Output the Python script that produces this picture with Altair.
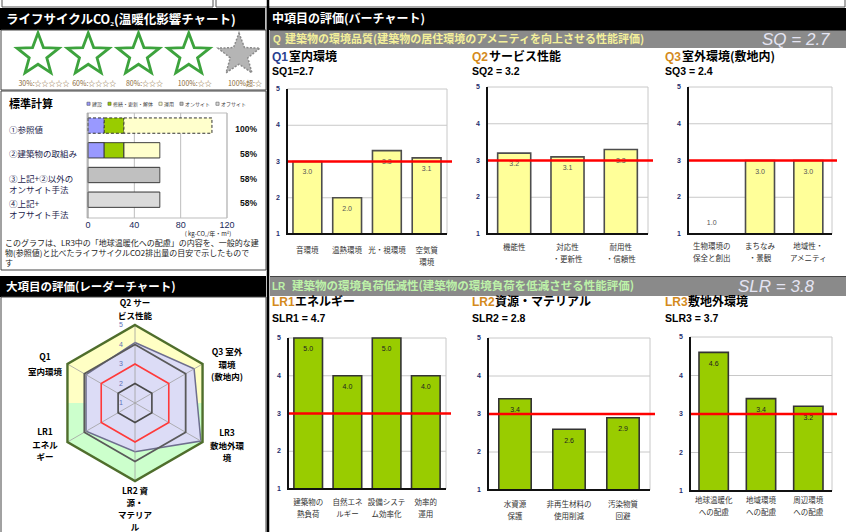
import math
import altair as alt
import pandas as pd

JP = "Noto Sans CJK JP"
LAT = "Liberation Sans"

# ---------------------------------------------------------------- values
STAR_SLOTS = [1, 2, 3, 4, 5]
STAR_EARNED = 4
STAR_LEGEND = ["30%:☆☆☆☆☆", "60%:☆☆☆☆", "80%:☆☆☆", "100%:☆☆", "100%超:☆"]

CO2_ROWS = ["①参照値", "②建築物の取組み", "③上記+②以外の\nオンサイト手法", "④上記+\nオフサイト手法"]
CO2_SEGMENTS = ["建設", "修繕・更新・解体", "運用", "オンサイト", "オフサイト"]
CO2_CONSTRUCTION = [14, 14, 0, 0]
CO2_RENEWAL = [17, 17, 0, 0]
CO2_OPERATION = [76, 31, 0, 0]
CO2_ONSITE = [0, 0, 62, 0]
CO2_OFFSITE = [0, 0, 0, 62]
CO2_TICKS = [0, 40, 80, 120]

RADAR_AXES = ["Q2 サー\nビス性能", "Q3 室外\n環境\n(敷地内)", "LR3\n敷地外環\n境",
              "LR2 資\n源・\nマテリア\nル", "LR1\nエネル\nギー", "Q1\n室内環境"]
RADAR_VALUES = [4.1, 4.5, 4.9, 3.5, 3.9, 3.9]
RADAR_LEVELS = [1, 2, 3, 4, 5]

SCORE_TICKS = [1, 2, 3, 4, 5]
BENCHMARK_LEVEL = 3

SQ, SLR = 2.7, 3.8
SQ1, SQ2, SQ3 = 2.7, 3.2, 2.4
SLR1, SLR2, SLR3 = 4.7, 2.8, 3.7

Q1_ITEMS = ["音環境", "温熱環境", "光・視環境", "空気質\n環境"]
Q1_SCORES = [3.0, 2.0, 3.3, 3.1]
Q2_ITEMS = ["機能性", "対応性\n・更新性", "耐用性\n・信頼性"]
Q2_SCORES = [3.2, 3.1, 3.3]
Q3_ITEMS = ["生物環境の\n保全と創出", "まちなみ\n・景観", "地域性・\nアメニティ"]
Q3_SCORES = [1.0, 3.0, 3.0]
LR1_ITEMS = ["建築物の\n熱負荷", "自然エネ\nルギー", "設備システ\nム効率化", "効率的\n運用"]
LR1_SCORES = [5.0, 4.0, 5.0, 4.0]
LR2_ITEMS = ["水資源\n保護", "非再生材料の\n使用削減", "汚染物質\n回避"]
LR2_SCORES = [3.4, 2.6, 2.9]
LR3_ITEMS = ["地球温暖化\nへの配慮", "地域環境\nへの配慮", "周辺環境\nへの配慮"]
LR3_SCORES = [4.6, 3.4, 3.2]

_one = pd.DataFrame({"k": [0]})


# ---------------------------------------------------------------- helpers
def txt(s, x, yc, size=9, color="#000000", weight="normal", align="left",
        font=JP, style="normal", lh=None):
    """Text whose first line is vertically centred on yc."""
    props = dict(text=s, fontSize=size, color=color, fontWeight=weight, align=align,
                 font=font, fontStyle=style, baseline="alphabetic")
    if "\n" in s:
        props["lineBreak"] = "\n"
        props["lineHeight"] = lh or size * 1.3
    return alt.Chart(_one).mark_text(**props).encode(
        x=alt.value(x), y=alt.value(yc + 0.36 * size))


def rect(x, y, x2, y2, fill="white", stroke=None, sw=1.0, opacity=1.0):
    kw = dict(fill=fill, fillOpacity=opacity)
    if stroke:
        kw.update(stroke=stroke, strokeWidth=sw)
    else:
        kw.update(strokeWidth=0)
    return alt.Chart(_one).mark_rect(**kw).encode(
        x=alt.value(x), y=alt.value(y), x2=alt.value(x2), y2=alt.value(y2))


def hline(x, x2, y, color, w=1.0):
    return alt.Chart(_one).mark_rule(color=color, strokeWidth=w).encode(
        x=alt.value(x), x2=alt.value(x2), y=alt.value(y))


def vline(x, y, y2, color, w=1.0):
    return alt.Chart(_one).mark_rule(color=color, strokeWidth=w).encode(
        x=alt.value(x), y=alt.value(y), y2=alt.value(y2))


def star_path(inner=0.42):
    pts = []
    for k in range(10):
        a = math.radians(-90 + 36 * k)
        r = 1.0 if k % 2 == 0 else inner
        pts.append(f"{r * math.cos(a):.4f},{r * math.sin(a):.4f}")
    return "M" + " L".join(pts) + " Z"


def bar_panel(items, scores, x0, x1, ytop, ybot, pin, pout, fill, stroke,
              val_color, lab_y):
    df = pd.DataFrame({"item": items, "score": scores})
    xs = alt.Scale(domain=items, range=[x0, x1], paddingInner=pin, paddingOuter=pout)
    ys = alt.Scale(domain=[1, 5], range=[ybot, ytop], nice=False, zero=False)
    X = alt.X("item:N", scale=xs, axis=None)

    def Y(f):
        return alt.Y(f, scale=ys, axis=None)

    grid = alt.Chart(pd.DataFrame({"t": SCORE_TICKS[1:]})).mark_rule(
        color="#c8c8c8", strokeWidth=1).encode(y=Y("t:Q"), x=alt.value(x0), x2=alt.value(x1))
    right = alt.Chart(_one).mark_rule(color="#c8c8c8", strokeWidth=1).encode(
        x=alt.value(x1), y=alt.YDatum(1, axis=None), y2=alt.Y2Datum(5))
    bars = alt.Chart(df).mark_bar(fill=fill, stroke=stroke, strokeWidth=1.6).encode(
        x=X, y=Y("score:Q"), y2=alt.Y2Datum(1))
    vals = alt.Chart(df).transform_calculate(
        lab="datum.score > 1.5 ? datum.score - 0.3 : datum.score + 0.3"
    ).mark_text(fontSize=7, color=val_color, font=LAT, baseline="middle").encode(
        x=X, y=Y("lab:Q"), text=alt.Text("score:Q", format=".1f"))
    red = alt.Chart(_one).mark_rule(color="#ff0000", strokeWidth=2.6).encode(
        y=alt.YDatum(BENCHMARK_LEVEL, axis=None), x=alt.value(x0), x2=alt.value(x1 + 5))
    yaxis = alt.Chart(_one).mark_rule(color="#111111", strokeWidth=2).encode(
        x=alt.value(x0), y=alt.YDatum(1, axis=None), y2=alt.Y2Datum(5))
    xaxis = alt.Chart(_one).mark_rule(color="#111111", strokeWidth=2).encode(
        y=alt.YDatum(1, axis=None), x=alt.value(x0 - 1), x2=alt.value(x1))
    tlabels = alt.Chart(pd.DataFrame({"t": SCORE_TICKS})).mark_text(
        fontSize=7, color="#1f2f6f", font=LAT, fontWeight="bold", baseline="middle").encode(
        y=Y("t:Q"), x=alt.value(x0 - 9), text="t:Q")
    xlabels = alt.Chart(df).mark_text(
        fontSize=7.5, font=JP, color="#333333", lineBreak="\n", lineHeight=12,
        baseline="alphabetic").encode(x=X, y=alt.value(lab_y + 2.7), text="item:N")
    return alt.layer(grid, right, bars, vals, red, yaxis, xaxis, tlabels, xlabels)


# ---------------------------------------------------------------- frame & headers
layers = [
    rect(0, 0, 846, 532, fill="white"),
    rect(2, -2, 213, 7, fill="white", stroke="#555555"),
    rect(216, -2, 845, 7, fill="white", stroke="#555555"),
    rect(0, 8, 846, 30, fill="#000000"),
    vline(266, 8, 30, "#ffffff", 1.5),
    rect(1, 30, 266, 90, fill="white", stroke="#444444"),
    rect(1, 91, 266, 270, fill="white", stroke="#444444"),
    rect(0, 276, 266, 297, fill="#000000"),
    rect(1, 297, 266, 533, fill="white", stroke="#444444"),
    rect(270, 30, 846, 48, fill="#8a8a8a"),
    hline(270, 846, 30.5, "#444444", 1),
    rect(270, 276, 846, 296, fill="#8a8a8a"),
    hline(270, 846, 276.5, "#444444", 1),
    vline(268, 0, 532, "#000000", 2.5),
    txt("ライフサイクルCO₂(温暖化影響チャート)", 6, 19, size=12.5, color="white", weight="bold"),
    txt("中項目の評価(バーチャート)", 272, 19, size=12, color="white", weight="bold"),
    txt("大項目の評価(レーダーチャート)", 6, 287, size=11.5, color="white", weight="bold"),
    txt("Q", 273, 39, size=10, color="#f4f09a", weight="bold", font=LAT),
    txt("建築物の環境品質(建築物の居住環境のアメニティを向上させる性能評価)", 285, 39,
        size=11, color="#f4f09a", weight="bold"),
    txt(f"SQ = {SQ}", 762, 39, size=17, color="#e4e4f2", style="italic", font=LAT),
    txt("LR", 272, 286, size=10, color="#bdf2a8", weight="bold", font=LAT),
    txt("建築物の環境負荷低減性(建築物の環境負荷を低減させる性能評価)", 292, 286,
        size=11.5, color="#bdf2a8", weight="bold"),
    txt(f"SLR = {SLR}", 738, 286, size=17, color="#e4e4f2", style="italic", font=LAT),
]

# ---------------------------------------------------------------- stars
star_df = pd.DataFrame({"i": STAR_SLOTS, "legend": STAR_LEGEND})
star_x = alt.X("i:Q", scale=alt.Scale(domain=[1, 5], range=[38, 239], nice=False, zero=False), axis=None)
STAR = star_path()
stars_on = alt.Chart(star_df).transform_filter(f"datum.i <= {STAR_EARNED}").mark_point(
    shape=STAR, size=1936, filled=True, fill="white", stroke="#3da33d", strokeWidth=2.8, opacity=1
).encode(x=star_x, y=alt.value(55))
stars_off = alt.Chart(star_df).transform_filter(f"datum.i > {STAR_EARNED}").mark_point(
    shape=STAR, size=1936, filled=True, fill="#b5b5b5", stroke="#8a8a8a", strokeWidth=1.5,
    strokeDash=[2, 1.5], opacity=1
).encode(x=star_x, y=alt.value(55))
star_text = alt.Chart(star_df).mark_text(
    fontSize=7, color="#8a6a3a", font=JP, baseline="middle", dx=6
).encode(x=star_x, y=alt.value(83.5), text="legend:N")
layers += [alt.layer(stars_on, stars_off, star_text)]

# ---------------------------------------------------------------- standard calculation (CO2)
series = [CO2_CONSTRUCTION, CO2_RENEWAL, CO2_OPERATION, CO2_ONSITE, CO2_OFFSITE]
recs = []
for i, row in enumerate(CO2_ROWS):
    for j, (seg, vals) in enumerate(zip(CO2_SEGMENTS, series)):
        if vals[i] > 0:
            recs.append({"row": row, "seg": seg, "ord": j, "v": vals[i], "ref": i == 0})
co2 = pd.DataFrame(recs)
totals = [sum(s[i] for s in series) for i in range(len(CO2_ROWS))]
rows_df = pd.DataFrame({
    "row": CO2_ROWS,
    "pct": [f"{round(t / totals[0] * 100)}%" for t in totals],
})
cxs = alt.Scale(domain=[0, 120], range=[88, 227], nice=False, zero=False)
cys = alt.Scale(domain=CO2_ROWS, range=[113, 212.3], paddingInner=0.38, paddingOuter=0.2)
co2_colors = ["#9999ff", "#99cc00", "#ffffcc", "#c0c0c0", "#dadada"]

co2_grid = alt.Chart(pd.DataFrame({"t": CO2_TICKS[1:]})).mark_rule(color="#bdbdbd").encode(
    x=alt.X("t:Q", scale=cxs, axis=None), y=alt.value(113), y2=alt.value(218))
co2_bars = alt.Chart(co2).mark_bar(stroke="#333333", strokeWidth=1).encode(
    x=alt.X("v:Q", stack="zero", scale=cxs, axis=None),
    y=alt.Y("row:N", scale=cys, axis=None),
    color=alt.Color("seg:N", scale=alt.Scale(domain=CO2_SEGMENTS, range=co2_colors),
                    legend=alt.Legend(orient="none", legendX=86, legendY=101,
                                      direction="horizontal", title=None,
                                      symbolType="square", symbolSize=10,
                                      symbolStrokeWidth=0.5, symbolStrokeColor="#444444",
                                      labelFontSize=5, labelFont=JP, labelColor="#444444",
                                      columnPadding=3, labelOffset=1, padding=0)),
    order=alt.Order("ord:Q"),
    strokeDash=alt.condition("datum.ref", alt.value([3, 2]), alt.value([1, 0])),
)
co2_ticks = alt.Chart(pd.DataFrame({"t": CO2_TICKS})).mark_text(
    fontSize=9, color="#1a2a5a", font=LAT, baseline="middle").encode(
    x=alt.X("t:Q", scale=cxs, axis=None), y=alt.value(225), text="t:Q")
co2_rowlab = alt.Chart(rows_df).mark_text(
    align="left", fontSize=8.5, font=JP, color="#1c1c4c", lineBreak="\n", lineHeight=11,
    baseline="alphabetic", dy=7).encode(
    x=alt.value(9), y=alt.Y("row:N", scale=cys, axis=None), text="row:N")
co2_pct = alt.Chart(rows_df).mark_text(
    align="right", fontSize=8.5, font=LAT, fontWeight="bold", color="#111111",
    baseline="alphabetic", dy=6.5).encode(
    x=alt.value(257), y=alt.Y("row:N", scale=cys, axis=None), text="pct:N")
layers += [
    rect(87, 113, 227, 218, fill="white", stroke="#bdbdbd"),
    alt.layer(co2_grid, co2_bars, co2_ticks, co2_rowlab, co2_pct),
    vline(88, 113, 218, "#888888", 1),
    txt("標準計算", 9, 104, size=11, weight="bold"),
    txt("( kg-CO₂/年・m²)", 208, 233.5, size=6, color="#222222", align="center"),
    txt("このグラフは、LR3中の「地球温暖化への配慮」の内容を、一般的な建", 5, 243.5, size=8, color="#222222"),
    txt("物(参照値)と比べたライフサイクルCO2排出量の目安で示したもので", 5, 253.5, size=8, color="#222222"),
    txt("す", 5, 263.5, size=8, color="#222222"),
]

# ---------------------------------------------------------------- radar
rxs = alt.Scale(domain=[-4, 4], range=[57, 213], nice=False, zero=False)
rys = alt.Scale(domain=[-4, 4], range=[481, 325], nice=False, zero=False)
RX = alt.X("px:Q", scale=rxs, axis=None)
RY = alt.Y("py:Q", scale=rys, axis=None)


def polar(chart, r_expr, a_expr):
    return chart.transform_calculate(ang=f"({a_expr}) * PI / 180").transform_calculate(
        px=f"({r_expr}) * sin(datum.ang)", py=f"({r_expr}) * cos(datum.ang)")


outer = max(RADAR_LEVELS) - 1
edge = outer * math.cos(math.radians(30))
upper_half = pd.DataFrame({"deg": [270, 300, 0, 60, 90], "r": [edge, outer, outer, outer, edge], "seq": range(5)})
lower_half = pd.DataFrame({"deg": [90, 120, 180, 240, 270], "r": [edge, outer, outer, outer, edge], "seq": range(5)})

fill_up = polar(alt.Chart(upper_half), "datum.r", "datum.deg").mark_line(
    interpolate="linear-closed", fill="#ffffc4", strokeWidth=0).encode(x=RX, y=RY, order="seq:Q")
fill_dn = polar(alt.Chart(lower_half), "datum.r", "datum.deg").mark_line(
    interpolate="linear-closed", fill="#ccffcc", strokeWidth=0).encode(x=RX, y=RY, order="seq:Q")

radar_df = pd.DataFrame({"axis": RADAR_AXES, "value": RADAR_VALUES, "k": range(len(RADAR_AXES))})
shape = polar(alt.Chart(radar_df), "datum.value - 1", "datum.k * 60").mark_line(
    interpolate="linear-closed", fill="#dcdcf6", stroke="#6e6e8e", strokeWidth=1.5).encode(
    x=RX, y=RY, order="k:Q")

grid_df = pd.DataFrame([{"lv": lv, "k": k} for lv in RADAR_LEVELS[1:] for k in range(6)])


def ring(level, color, width):
    return polar(alt.Chart(grid_df).transform_filter(f"datum.lv == {level}"),
                 "datum.lv - 1", "datum.k * 60").mark_line(
        interpolate="linear-closed", stroke=color, strokeWidth=width).encode(
        x=RX, y=RY, order="k:Q", detail="lv:N")


spokes = polar(alt.Chart(pd.DataFrame({"k": range(6)})), f"{outer}", "datum.k * 60").transform_calculate(
    cx="0", cy="0").mark_rule(color="#a0a0a0", strokeWidth=0.8).encode(
    x=alt.X("cx:Q", scale=rxs, axis=None), y=alt.Y("cy:Q", scale=rys, axis=None),
    x2="px:Q", y2="py:Q")

lvl_labels = alt.Chart(pd.DataFrame({"lv": RADAR_LEVELS})).transform_calculate(
    px="0", py="datum.lv - 1").mark_text(
    fontSize=7, color="#6070b8", font=LAT, baseline="middle", dx=-14).encode(
    x=RX, y=RY, text="lv:Q")

layers += [alt.layer(fill_up, fill_dn, shape, spokes,
                     ring(2, "#4a4a4a", 1.6), ring(3, "#ff3a3a", 1.6),
                     ring(4, "#5a5a5a", 1.8), ring(5, "#4f6e2c", 2.4), lvl_labels)]

RADAR_LABEL_POS = [(135, 303, 13), (227, 352, 12.5), (227, 433, 12.5),
                   (135, 491, 12), (45, 432, 12.5), (45, 357, 15)]
for name, (lx, ly, lh) in zip(RADAR_AXES, RADAR_LABEL_POS):
    layers.append(txt(name, lx, ly, size=8.5, weight="bold", align="center", lh=lh))

# ---------------------------------------------------------------- bar panels
Q_FILL, Q_STROKE = "#ffff99", "#4d4d4d"
L_FILL, L_STROKE = "#99cc00", "#333333"
layers += [
    bar_panel(Q1_ITEMS, Q1_SCORES, 287, 447, 89, 234, 0.275, 0.15, Q_FILL, Q_STROKE, "#555555", 250),
    bar_panel(Q2_ITEMS, Q2_SCORES, 487, 648, 87, 234, 0.38, 0.2, Q_FILL, Q_STROKE, "#555555", 247),
    bar_panel(Q3_ITEMS, Q3_SCORES, 688, 832, 87, 234, 0.4, 0.19, Q_FILL, Q_STROKE, "#555555", 246),
    bar_panel(LR1_ITEMS, LR1_SCORES, 288, 446, 338, 489, 0.27, 0.15, L_FILL, L_STROKE, "#222222", 502),
    bar_panel(LR2_ITEMS, LR2_SCORES, 488, 650, 338, 490, 0.4, 0.2, L_FILL, L_STROKE, "#222222", 504),
    bar_panel(LR3_ITEMS, LR3_SCORES, 690, 832, 337, 491, 0.38, 0.19, L_FILL, L_STROKE, "#222222", 500),
]

ORANGE, NAVY = "#d48a1c", "#2a3f8f"
subtitles = [
    ("Q1", NAVY, "室内環境", 272, 289, 57, f"SQ1={SQ1}", 71),
    ("Q2", ORANGE, "サービス性能", 472, 489, 57, f"SQ2 = {SQ2}", 71),
    ("Q3", ORANGE, "室外環境(敷地内)", 665, 682, 57, f"SQ3 = {SQ3}", 71),
    ("LR1", ORANGE, "エネルギー", 272, 295, 302, f"SLR1 = {SLR1}", 318),
    ("LR2", ORANGE, "資源・マテリアル", 472, 495, 302, f"SLR2 = {SLR2}", 318),
    ("LR3", ORANGE, "敷地外環境", 665, 688, 302, f"SLR3 = {SLR3}", 318),
]
for code, col, name, x0, x1, y0, score, y1 in subtitles:
    layers += [
        txt(code, x0, y0, size=12, color=col, weight="bold", font=LAT),
        txt(name, x1, y0, size=12, weight="bold"),
        txt(score, x0, y1, size=10.5, weight="bold", font=LAT),
    ]

chart = alt.layer(*layers).resolve_scale(
    x="independent", y="independent"
).properties(
    width=846, height=532, padding=0, autosize=alt.AutoSizeParams(type="none"),
    background="white",
).configure_view(stroke=None)

chart.save("out.html", embed_options={"renderer": "svg", "actions": False})
